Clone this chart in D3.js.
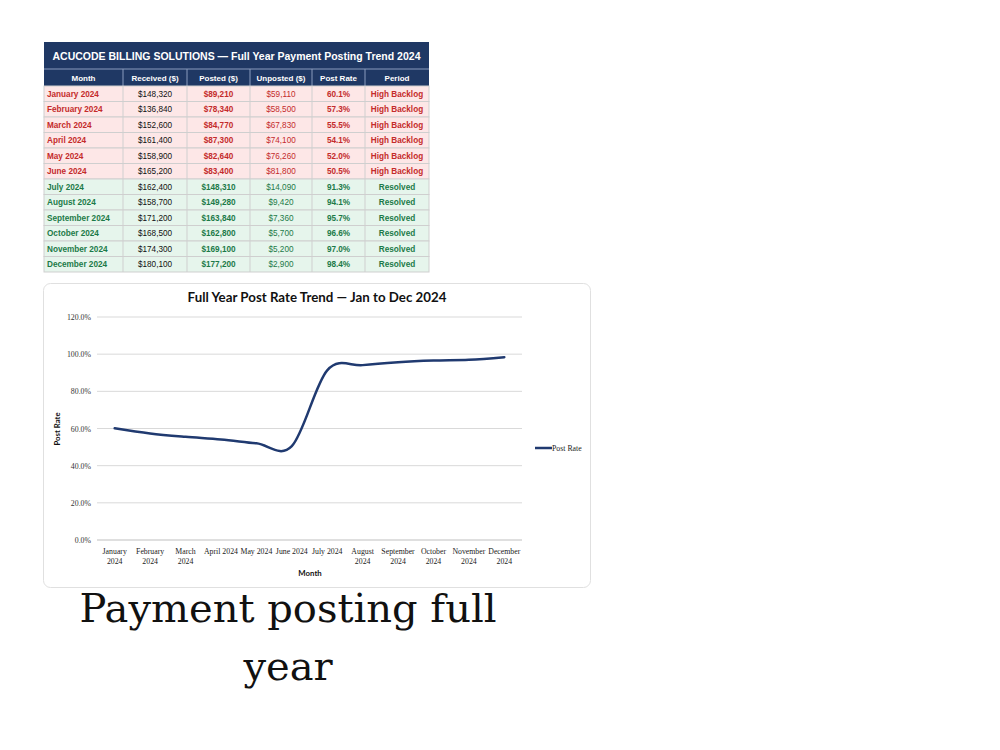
<!DOCTYPE html>
<html>
<head>
<meta charset="utf-8">
<script src="https://cdn.jsdelivr.net/npm/d3@7"></script>
<style>
  body { margin: 0; background: #fff; }
  svg { display: block; }
</style>
</head>
<body>
<div id="chart"></div>
<script>
// table data
const months = ["January 2024", "February 2024", "March 2024", "April 2024", "May 2024", "June 2024",
                "July 2024", "August 2024", "September 2024", "October 2024", "November 2024", "December 2024"];
const received = [148320, 136840, 152600, 161400, 158900, 165200, 162400, 158700, 171200, 168500, 174300, 180100];
const posted = [89210, 78340, 84770, 87300, 82640, 83400, 148310, 149280, 163840, 162800, 169100, 177200];
const unposted = [59110, 58500, 67830, 74100, 76260, 81800, 14090, 9420, 7360, 5700, 5200, 2900];
const postRate = [60.1, 57.3, 55.5, 54.1, 52.0, 50.5, 91.3, 94.1, 95.7, 96.6, 97.0, 98.4];
const period = ["High Backlog", "High Backlog", "High Backlog", "High Backlog", "High Backlog", "High Backlog",
                "Resolved", "Resolved", "Resolved", "Resolved", "Resolved", "Resolved"];
const headers = ["Month", "Received ($)", "Posted ($)", "Unposted ($)", "Post Rate", "Period"];
// x tick labels as Excel wraps them
const xTickLabels = ["January\n2024", "February\n2024", "March\n2024", "April 2024", "May 2024", "June 2024",
                     "July 2024", "August\n2024", "September\n2024", "October\n2024", "November\n2024", "December\n2024"];
const yTicks = [0, 0.2, 0.4, 0.6, 0.8, 1.0, 1.2];

// layout
const W = 1000, H = 750;
const TABLE_X = 44, TABLE_W = 385, TABLE_Y = 42;
const TITLE_H = 27, HEAD_H = 17, ROW_H = 15.5;
const COL_EDGES = [44, 123, 187, 250, 312, 365, 429];
const NAVY = "#1f3864";
const RED = "#c42b2b", RED_BG = "#fde7e7";
const GREEN = "#1c7a48", GREEN_BG = "#e6f5ec";

const svg = d3.select("#chart").append("svg")
    .attr("width", W)
    .attr("height", H);

svg.append("rect").attr("width", W).attr("height", H).attr("fill", "#fff");

// ---------- table ----------
const table = svg.append("g").attr("font-family", "'Liberation Sans', Arial, sans-serif");

table.append("rect")
    .attr("x", TABLE_X).attr("y", TABLE_Y)
    .attr("width", TABLE_W).attr("height", TITLE_H + HEAD_H)
    .attr("fill", NAVY);

table.append("text")
    .attr("x", TABLE_X + TABLE_W / 2)
    .attr("y", TABLE_Y + TITLE_H / 2 + 4)
    .attr("text-anchor", "middle")
    .attr("fill", "#fff")
    .attr("font-size", 10.5)
    .attr("font-weight", "bold")
    .text("ACUCODE BILLING SOLUTIONS \u2014 Full Year Payment Posting Trend 2024");

const headY = TABLE_Y + TITLE_H;
table.append("line")
    .attr("x1", TABLE_X).attr("x2", TABLE_X + TABLE_W)
    .attr("y1", headY).attr("y2", headY)
    .attr("stroke", "#8a9bbd").attr("stroke-width", 1);

headers.forEach((h, i) => {
    const x0 = COL_EDGES[i], x1 = COL_EDGES[i + 1];
    table.append("text")
        .attr("x", (x0 + x1) / 2)
        .attr("y", headY + HEAD_H / 2 + 3)
        .attr("text-anchor", "middle")
        .attr("fill", "#fff")
        .attr("font-size", 8)
        .attr("font-weight", "bold")
        .text(h);
    if (i > 0) {
        table.append("line")
            .attr("x1", x0).attr("x2", x0)
            .attr("y1", headY).attr("y2", headY + HEAD_H)
            .attr("stroke", "#8a9bbd");
    }
});

const money = d3.format("$,");
const rowsTop = headY + HEAD_H;

months.forEach((m, r) => {
    const y0 = rowsTop + r * ROW_H;
    const backlog = period[r] === "High Backlog";
    const col = backlog ? RED : GREEN;
    table.append("rect")
        .attr("x", TABLE_X).attr("y", y0)
        .attr("width", TABLE_W).attr("height", ROW_H)
        .attr("fill", backlog ? RED_BG : GREEN_BG)
        .attr("stroke", "#cfcfcf").attr("stroke-width", 1);

    const cells = [
        { t: m, c: col, b: true, a: "start" },
        { t: money(received[r]), c: "#111", b: false, a: "middle" },
        { t: money(posted[r]), c: col, b: true, a: "middle" },
        { t: money(unposted[r]), c: col, b: false, a: "middle" },
        { t: postRate[r].toFixed(1) + "%", c: col, b: true, a: "middle" },
        { t: period[r], c: col, b: true, a: "middle" }
    ];
    cells.forEach((cell, i) => {
        const x0 = COL_EDGES[i], x1 = COL_EDGES[i + 1];
        table.append("text")
            .attr("x", cell.a === "start" ? x0 + 3 : (x0 + x1) / 2)
            .attr("y", y0 + ROW_H / 2 + 3)
            .attr("text-anchor", cell.a)
            .attr("fill", cell.c)
            .attr("font-size", 8.2)
            .attr("font-weight", cell.b ? "bold" : "normal")
            .text(cell.t);
        if (i > 0) {
            table.append("line")
                .attr("x1", x0).attr("x2", x0)
                .attr("y1", y0).attr("y2", y0 + ROW_H)
                .attr("stroke", "#cfcfcf");
        }
    });
});

// ---------- chart ----------
svg.append("rect")
    .attr("x", 43.5).attr("y", 283.5)
    .attr("width", 547).attr("height", 304)
    .attr("rx", 7)
    .attr("fill", "#fff")
    .attr("stroke", "#e0e0e0");

const chart = svg.append("g").attr("font-family", "Lato, 'Open Sans', sans-serif");

chart.append("text")
    .attr("x", 317).attr("y", 302)
    .attr("text-anchor", "middle")
    .attr("font-size", 13.3)
    .attr("font-weight", "bold")
    .attr("fill", "#111")
    .text("Full Year Post Rate Trend \u2014 Jan to Dec 2024");

const xScale = d3.scaleBand()
    .domain(months)
    .range([97, 522]);

const yScale = d3.scaleLinear()
    .domain([0, 1.2])
    .range([540, 317]);

// gridlines
chart.append("g")
    .selectAll("line")
    .data(yTicks)
    .join("line")
    .attr("x1", 97).attr("x2", 522)
    .attr("y1", d => yScale(d)).attr("y2", d => yScale(d))
    .attr("stroke", d => d === 0 ? "#bfbfbf" : "#d9d9d9")
    .attr("stroke-width", 1);

const yAxis = d3.axisLeft(yScale)
    .tickValues(yTicks)
    .tickFormat(d3.format(".1%"))
    .tickSize(0)
    .tickPadding(6);

chart.append("g")
    .attr("transform", "translate(97,0)")
    .call(yAxis)
    .call(g => g.select(".domain").remove())
    .call(g => g.selectAll("text")
        .attr("font-family", "'Liberation Serif', serif")
        .attr("font-size", 7.8)
        .attr("fill", "#333"));

const xAxis = d3.axisBottom(xScale)
    .tickSize(0)
    .tickFormat((d, i) => "");

const xg = chart.append("g")
    .attr("transform", "translate(0,540)")
    .call(xAxis)
    .call(g => g.select(".domain").remove());

xg.selectAll(".tick").each(function (d, i) {
    const t = d3.select(this).select("text")
        .attr("font-family", "'Liberation Serif', serif")
        .attr("font-size", 7.8)
        .attr("fill", "#222")
        .attr("y", 0)
        .attr("dy", null);
    xTickLabels[i].split("\n").forEach((line, k) => {
        t.append("tspan")
            .attr("x", 0)
            .attr("y", 13.5 + k * 10)
            .text(line);
    });
});

chart.append("text")
    .attr("x", 310).attr("y", 576)
    .attr("text-anchor", "middle")
    .attr("font-size", 7.8)
    .attr("font-weight", "bold")
    .attr("fill", "#111")
    .text("Month");

chart.append("text")
    .attr("transform", "translate(60,429) rotate(-90)")
    .attr("text-anchor", "middle")
    .attr("font-size", 7.8)
    .attr("font-weight", "bold")
    .attr("fill", "#111")
    .text("Post Rate");

const rateLine = d3.line()
    .x((d, i) => xScale(months[i]) + xScale.bandwidth() / 2)
    .y(d => yScale(d / 100))
    .curve(d3.curveCatmullRom.alpha(0));

chart.append("path")
    .datum(postRate)
    .attr("fill", "none")
    .attr("stroke", "#203a70")
    .attr("stroke-width", 2.5)
    .attr("stroke-linecap", "round")
    .attr("d", rateLine);

// legend
chart.append("line")
    .attr("x1", 535).attr("x2", 552)
    .attr("y1", 448).attr("y2", 448)
    .attr("stroke", "#203a70")
    .attr("stroke-width", 2.5);

chart.append("text")
    .attr("x", 552).attr("y", 450.5)
    .attr("font-family", "'Liberation Serif', serif")
    .attr("font-size", 7.8)
    .attr("fill", "#222")
    .text("Post Rate");

// ---------- caption ----------
const caption = svg.append("text")
    .attr("text-anchor", "middle")
    .attr("font-family", "'DejaVu Serif', serif")
    .attr("font-size", 40)
    .attr("fill", "#111");

caption.append("tspan").attr("x", 288).attr("y", 622).text("Payment posting full");
caption.append("tspan").attr("x", 288).attr("y", 680).text("year");
</script>
</body>
</html>
